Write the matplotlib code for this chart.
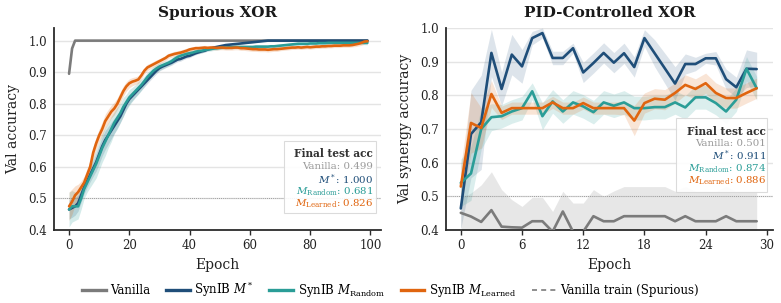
import numpy as np
import matplotlib
matplotlib.use("Agg")
import matplotlib.pyplot as plt
from matplotlib.lines import Line2D
from matplotlib.patches import FancyBboxPatch

plt.rcParams['font.family'] = ['DejaVu Serif']
plt.rcParams['mathtext.fontset'] = 'custom'
plt.rcParams['mathtext.rm'] = 'DejaVu Serif'
plt.rcParams['mathtext.it'] = 'DejaVu Serif:italic'

# ---------------- Data: Spurious XOR (left) ----------------
left_epochs = list(range(100))

left_vanilla = [
    0.895, 0.975, 1.0, 1.0, 1.0, 1.0, 1.0, 1.0, 1.0, 1.0,
    1.0, 1.0, 1.0, 1.0, 1.0, 1.0, 1.0, 1.0, 1.0, 1.0,
    1.0, 1.0, 1.0, 1.0, 1.0, 1.0, 1.0, 1.0, 1.0, 1.0,
    1.0, 1.0, 1.0, 1.0, 1.0, 1.0, 1.0, 1.0, 1.0, 1.0,
    1.0, 1.0, 1.0, 1.0, 1.0, 1.0, 1.0, 1.0, 1.0, 1.0,
    1.0, 1.0, 1.0, 1.0, 1.0, 1.0, 1.0, 1.0, 1.0, 1.0,
    1.0, 1.0, 1.0, 1.0, 1.0, 1.0, 1.0, 1.0, 1.0, 1.0,
    1.0, 1.0, 1.0, 1.0, 1.0, 1.0, 1.0, 1.0, 1.0, 1.0,
    1.0, 1.0, 1.0, 1.0, 1.0, 1.0, 1.0, 1.0, 1.0, 1.0,
    1.0, 1.0, 1.0, 1.0, 1.0, 1.0, 1.0, 1.0, 1.0, 1.0,
]

left_mstar = [
    0.465, 0.470, 0.475, 0.485, 0.510, 0.535, 0.555, 0.575, 0.595, 0.615,
    0.640, 0.665, 0.685, 0.700, 0.715, 0.730, 0.745, 0.760, 0.780, 0.800,
    0.815, 0.825, 0.835, 0.845, 0.855, 0.865, 0.875, 0.885, 0.895, 0.905,
    0.913, 0.918, 0.922, 0.926, 0.930, 0.935, 0.940, 0.942, 0.946, 0.950,
    0.952, 0.956, 0.960, 0.963, 0.966, 0.968, 0.972, 0.975, 0.978, 0.980,
    0.982, 0.984, 0.986, 0.987, 0.988, 0.989, 0.990, 0.991, 0.992, 0.993,
    0.994, 0.995, 0.996, 0.997, 0.998, 0.999, 1.000, 1.000, 1.000, 1.000,
    1.000, 1.000, 1.000, 1.000, 1.000, 1.000, 1.000, 1.000, 1.000, 1.000,
    1.000, 1.000, 1.000, 1.000, 1.000, 1.000, 1.000, 1.000, 1.000, 1.000,
    1.000, 1.000, 1.000, 1.000, 1.000, 1.000, 1.000, 1.000, 1.000, 1.000,
]

left_random = [
    0.465, 0.475, 0.475, 0.475, 0.500, 0.530, 0.550, 0.570, 0.590, 0.610,
    0.635, 0.660, 0.680, 0.700, 0.720, 0.740, 0.755, 0.770, 0.790, 0.805,
    0.820, 0.830, 0.840, 0.850, 0.860, 0.872, 0.885, 0.895, 0.905, 0.912,
    0.918, 0.922, 0.926, 0.930, 0.935, 0.942, 0.948, 0.952, 0.955, 0.958,
    0.960, 0.962, 0.965, 0.967, 0.968, 0.970, 0.972, 0.973, 0.975, 0.976,
    0.977, 0.978, 0.978, 0.979, 0.979, 0.980, 0.980, 0.980, 0.980, 0.980,
    0.980, 0.980, 0.981, 0.981, 0.981, 0.981, 0.981, 0.982, 0.982, 0.983,
    0.984, 0.985, 0.986, 0.987, 0.988, 0.989, 0.990, 0.990, 0.990, 0.990,
    0.991, 0.991, 0.991, 0.992, 0.992, 0.992, 0.993, 0.993, 0.993, 0.993,
    0.993, 0.993, 0.993, 0.993, 0.993, 0.993, 0.993, 0.993, 0.993, 0.993,
]

left_learned = [
    0.475, 0.490, 0.510, 0.520, 0.535, 0.550, 0.575, 0.600, 0.645, 0.675,
    0.700, 0.720, 0.745, 0.760, 0.775, 0.785, 0.800, 0.820, 0.840, 0.855,
    0.865, 0.870, 0.873, 0.877, 0.890, 0.905, 0.915, 0.920, 0.925, 0.930,
    0.935, 0.940, 0.945, 0.952, 0.955, 0.958, 0.960, 0.962, 0.965, 0.968,
    0.972, 0.974, 0.976, 0.976, 0.977, 0.978, 0.977, 0.978, 0.978, 0.977,
    0.978, 0.978, 0.977, 0.977, 0.977, 0.978, 0.978, 0.976, 0.976, 0.975,
    0.974, 0.973, 0.973, 0.972, 0.972, 0.972, 0.971, 0.972, 0.973, 0.973,
    0.974, 0.975, 0.976, 0.977, 0.978, 0.978, 0.979, 0.978, 0.979, 0.980,
    0.979, 0.980, 0.981, 0.981, 0.982, 0.982, 0.983, 0.983, 0.984, 0.984,
    0.984, 0.985, 0.985, 0.985, 0.986, 0.988, 0.990, 0.993, 0.997, 0.998,
]

left_mstar_std = [
    0.030, 0.030, 0.028, 0.025, 0.022, 0.020, 0.020, 0.022, 0.025, 0.028,
    0.030, 0.030, 0.030, 0.028, 0.026, 0.024, 0.022, 0.020, 0.020, 0.018,
    0.016, 0.015, 0.014, 0.013, 0.012, 0.012, 0.011, 0.010, 0.010, 0.010,
    0.009, 0.009, 0.008, 0.008, 0.008, 0.007, 0.007, 0.007, 0.006, 0.006,
    0.006, 0.005, 0.005, 0.005, 0.005, 0.004, 0.004, 0.004, 0.004, 0.004,
    0.003, 0.003, 0.003, 0.003, 0.003, 0.003, 0.002, 0.002, 0.002, 0.002,
    0.002, 0.002, 0.002, 0.002, 0.001, 0.001, 0.001, 0.001, 0.001, 0.001,
    0.001, 0.001, 0.001, 0.001, 0.001, 0.001, 0.001, 0.001, 0.001, 0.001,
    0.001, 0.001, 0.001, 0.001, 0.001, 0.001, 0.001, 0.001, 0.001, 0.001,
    0.001, 0.001, 0.001, 0.001, 0.001, 0.001, 0.001, 0.001, 0.001, 0.001,
]

left_random_std = [
    0.055, 0.050, 0.045, 0.040, 0.035, 0.030, 0.030, 0.035, 0.040, 0.045,
    0.045, 0.045, 0.045, 0.040, 0.040, 0.035, 0.035, 0.030, 0.030, 0.025,
    0.025, 0.022, 0.020, 0.020, 0.018, 0.016, 0.015, 0.014, 0.013, 0.012,
    0.012, 0.011, 0.011, 0.010, 0.010, 0.010, 0.009, 0.009, 0.009, 0.008,
    0.008, 0.008, 0.007, 0.007, 0.007, 0.006, 0.006, 0.006, 0.006, 0.006,
    0.005, 0.005, 0.005, 0.005, 0.005, 0.005, 0.005, 0.005, 0.005, 0.005,
    0.005, 0.005, 0.005, 0.005, 0.005, 0.005, 0.005, 0.005, 0.005, 0.005,
    0.005, 0.005, 0.005, 0.005, 0.005, 0.005, 0.005, 0.005, 0.005, 0.005,
    0.005, 0.005, 0.005, 0.005, 0.005, 0.005, 0.005, 0.005, 0.005, 0.005,
    0.005, 0.005, 0.005, 0.005, 0.005, 0.005, 0.005, 0.005, 0.006, 0.006,
]

left_learned_std = [
    0.045, 0.040, 0.030, 0.025, 0.020, 0.020, 0.020, 0.020, 0.020, 0.020,
    0.020, 0.022, 0.022, 0.022, 0.020, 0.020, 0.018, 0.018, 0.016, 0.015,
    0.014, 0.013, 0.012, 0.012, 0.011, 0.010, 0.010, 0.009, 0.009, 0.009,
    0.008, 0.008, 0.008, 0.008, 0.008, 0.008, 0.008, 0.008, 0.008, 0.008,
    0.007, 0.007, 0.007, 0.007, 0.007, 0.007, 0.007, 0.007, 0.007, 0.007,
    0.007, 0.007, 0.007, 0.007, 0.007, 0.007, 0.007, 0.007, 0.007, 0.007,
    0.007, 0.007, 0.007, 0.007, 0.007, 0.007, 0.007, 0.007, 0.007, 0.007,
    0.006, 0.006, 0.006, 0.006, 0.006, 0.006, 0.006, 0.006, 0.006, 0.006,
    0.006, 0.006, 0.006, 0.006, 0.006, 0.006, 0.006, 0.006, 0.006, 0.006,
    0.006, 0.006, 0.006, 0.006, 0.006, 0.007, 0.007, 0.008, 0.008, 0.008,
]

# ---------------- Data: PID-Controlled XOR (right) ----------------
right_epochs = list(range(30))

right_vanilla = [0.451, 0.440, 0.424, 0.459, 0.410, 0.408, 0.407, 0.426, 0.426, 0.395,
                 0.455, 0.395, 0.395, 0.441, 0.426, 0.426, 0.441, 0.441, 0.441, 0.441,
                 0.441, 0.426, 0.441, 0.426, 0.426, 0.426, 0.441, 0.426, 0.426, 0.426]
right_vanilla_std = [0.044, 0.070, 0.110, 0.114, 0.110, 0.082, 0.063, 0.071, 0.071, 0.060,
                     0.060, 0.085, 0.085, 0.079, 0.074, 0.090, 0.088, 0.088, 0.088, 0.088,
                     0.088, 0.089, 0.088, 0.089, 0.089, 0.089, 0.088, 0.089, 0.089, 0.089]

right_mstar = [0.464, 0.685, 0.720, 0.926, 0.819, 0.921, 0.886, 0.970, 0.985, 0.911,
               0.911, 0.940, 0.868, 0.896, 0.926, 0.897, 0.925, 0.884, 0.970, 0.925,
               0.880, 0.835, 0.893, 0.893, 0.910, 0.910, 0.848, 0.824, 0.879, 0.878]
right_mstar_std = [0.060, 0.130, 0.140, 0.070, 0.050, 0.060, 0.050, 0.020, 0.015, 0.020,
                   0.020, 0.015, 0.030, 0.030, 0.030, 0.030, 0.030, 0.030, 0.025, 0.040,
                   0.045, 0.050, 0.030, 0.020, 0.015, 0.020, 0.030, 0.030, 0.056, 0.050]

right_random = [0.540, 0.568, 0.700, 0.735, 0.738, 0.752, 0.762, 0.812, 0.738, 0.782,
                0.752, 0.779, 0.767, 0.750, 0.779, 0.769, 0.779, 0.762, 0.762, 0.765,
                0.765, 0.779, 0.764, 0.794, 0.794, 0.777, 0.752, 0.787, 0.879, 0.821]
right_random_std = [0.070, 0.080, 0.060, 0.040, 0.035, 0.035, 0.035, 0.025, 0.040, 0.035,
                    0.035, 0.035, 0.035, 0.035, 0.035, 0.035, 0.035, 0.035, 0.035, 0.035,
                    0.035, 0.035, 0.035, 0.035, 0.035, 0.035, 0.035, 0.035, 0.036, 0.035]

right_learned = [0.529, 0.718, 0.703, 0.804, 0.748, 0.762, 0.762, 0.762, 0.762, 0.779,
                 0.762, 0.762, 0.777, 0.762, 0.762, 0.762, 0.762, 0.725, 0.777, 0.790,
                 0.787, 0.807, 0.831, 0.819, 0.836, 0.807, 0.792, 0.792, 0.807, 0.821]
right_learned_std = [0.060, 0.090, 0.060, 0.040, 0.020, 0.018, 0.018, 0.018, 0.018, 0.018,
                     0.018, 0.018, 0.018, 0.018, 0.018, 0.018, 0.020, 0.045, 0.030, 0.030,
                     0.030, 0.030, 0.030, 0.030, 0.030, 0.030, 0.030, 0.030, 0.030, 0.030]

# Final test accuracies (box)
left_final = ["0.499", "1.000", "0.681", "0.826"]
right_final = ["0.501", "0.911", "0.874", "0.886"]

series_labels = ["Vanilla", r"SynIB $M^*$", r"SynIB $M_{\mathrm{Random}}$",
                 r"SynIB $M_{\mathrm{Learned}}$", "Vanilla train (Spurious)"]
box_labels = ["Vanilla", r"$M^*$", r"$M_{\mathrm{Random}}$", r"$M_{\mathrm{Learned}}$"]

C_VAN = "#7b7b7b"
C_STAR = "#1f4e79"
C_RAND = "#2a9d97"
C_LEARN = "#e0650f"
C_VAN_TXT = "#9a9a9a"

fig = plt.figure(figsize=(7.81, 3.03), dpi=100)
axL = fig.add_axes([54/781, 1-230/303, 327/781, 202/303])
axR = fig.add_axes([446/781, 1-230/303, 327/781, 202/303])


def draw(ax, x, series, bands, band_cols):
    x = np.asarray(x)
    for (y, c), sd, bc in zip(series, bands, band_cols):
        y = np.asarray(y)
        if sd is not None:
            sd = np.asarray(sd)
            ax.fill_between(x, y - sd, y + sd, color=bc[0], alpha=bc[1], lw=0, zorder=1)
    for (y, c) in series:
        ax.plot(x, y, color=c, lw=1.9, zorder=3, solid_capstyle='round')


draw(axL, left_epochs,
     [(left_vanilla, C_VAN), (left_mstar, C_STAR), (left_random, C_RAND), (left_learned, C_LEARN)],
     [None, left_mstar_std, left_random_std, left_learned_std],
     [None, (C_STAR, 0.18), (C_RAND, 0.2), (C_LEARN, 0.2)])
draw(axR, right_epochs,
     [(right_vanilla, C_VAN), (right_mstar, C_STAR), (right_random, C_RAND), (right_learned, C_LEARN)],
     [right_vanilla_std, right_mstar_std, right_random_std, right_learned_std],
     [("#d0d0d0", 0.5), (C_STAR, 0.15), (C_RAND, 0.17), (C_LEARN, 0.17)])


def style(ax, xlim, ylim, xticks, title, ylabel):
    ax.set_xlim(*xlim)
    ax.set_ylim(*ylim)
    ax.set_xticks(xticks)
    ax.set_yticks([0.4, 0.5, 0.6, 0.7, 0.8, 0.9, 1.0])
    ax.set_yticklabels(["0.4", "0.5", "0.6", "0.7", "0.8", "0.9", "1.0"])
    ax.grid(axis='y', color='#e4e4e4', lw=1.0, zorder=0)
    ax.set_axisbelow(True)
    for s in ['top', 'right']:
        ax.spines[s].set_visible(False)
    for s in ['left', 'bottom']:
        ax.spines[s].set_color('#2b2b2b')
        ax.spines[s].set_linewidth(1.3)
    ax.tick_params(axis='x', length=3.5, width=1.0, color='#2b2b2b', labelsize=8.5, pad=3, labelcolor='#222222')
    ax.tick_params(axis='y', length=0, labelsize=8.5, pad=5, labelcolor='#222222')
    ax.axhline(0.5, color='#888888', lw=0.6, ls=(0, (1, 1.5)), zorder=2)
    ax.set_title(title, fontsize=11, fontweight='bold', pad=8, color='#1a1a1a')
    ax.set_xlabel("Epoch", fontsize=10, labelpad=4, color='#222222')
    ax.set_ylabel(ylabel, fontsize=10, labelpad=6, color='#222222')


style(axL, (-5, 103.5), (0.4, 1.04), [0, 20, 40, 60, 80, 100], "Spurious XOR", "Val accuracy")
style(axR, (-1.45, 30.6), (0.4, 1.0), [0, 6, 12, 18, 24, 30], "PID-Controlled XOR", "Val synergy accuracy")


def box(ax, x0, y0, x1, y1, xt, rows, finals):
    ax.add_patch(FancyBboxPatch((x0, y0), x1 - x0, y1 - y0, boxstyle="square,pad=0",
                                transform=ax.transAxes, facecolor='white', edgecolor='#d8d8d8',
                                lw=0.8, alpha=0.9, zorder=5))
    ax.text(xt, rows[0], "Final test acc", transform=ax.transAxes, ha='right', va='center',
            fontsize=7.6, fontweight='bold', color='#333333', zorder=6)
    cols = [C_VAN_TXT, C_STAR, C_RAND, C_LEARN]
    for lab, val, c, yy in zip(box_labels, finals, cols, rows[1:]):
        ax.text(xt, yy, f"{lab}: {val}", transform=ax.transAxes, ha='right', va='center',
                fontsize=7.4, color=c, zorder=6)


box(axL, 0.703, 0.084, 0.985, 0.441, 0.976, [0.378, 0.314, 0.250, 0.189, 0.128], left_final)
box(axR, 0.703, 0.190, 0.982, 0.554, 0.979, [0.490, 0.428, 0.366, 0.303, 0.242], right_final)

handles = [Line2D([], [], color=C_VAN, lw=2.4),
           Line2D([], [], color=C_STAR, lw=2.4),
           Line2D([], [], color=C_RAND, lw=2.4),
           Line2D([], [], color=C_LEARN, lw=2.4),
           Line2D([], [], color=C_VAN, lw=1.2, ls=(0, (3, 2.5)))]
fig.legend(handles, series_labels, loc='center', bbox_to_anchor=(0.5, 0.045), ncol=5,
           frameon=False, fontsize=8.5, handlelength=2.0, handletextpad=0.4, columnspacing=1.3)

fig.savefig("out.png", dpi=100)
